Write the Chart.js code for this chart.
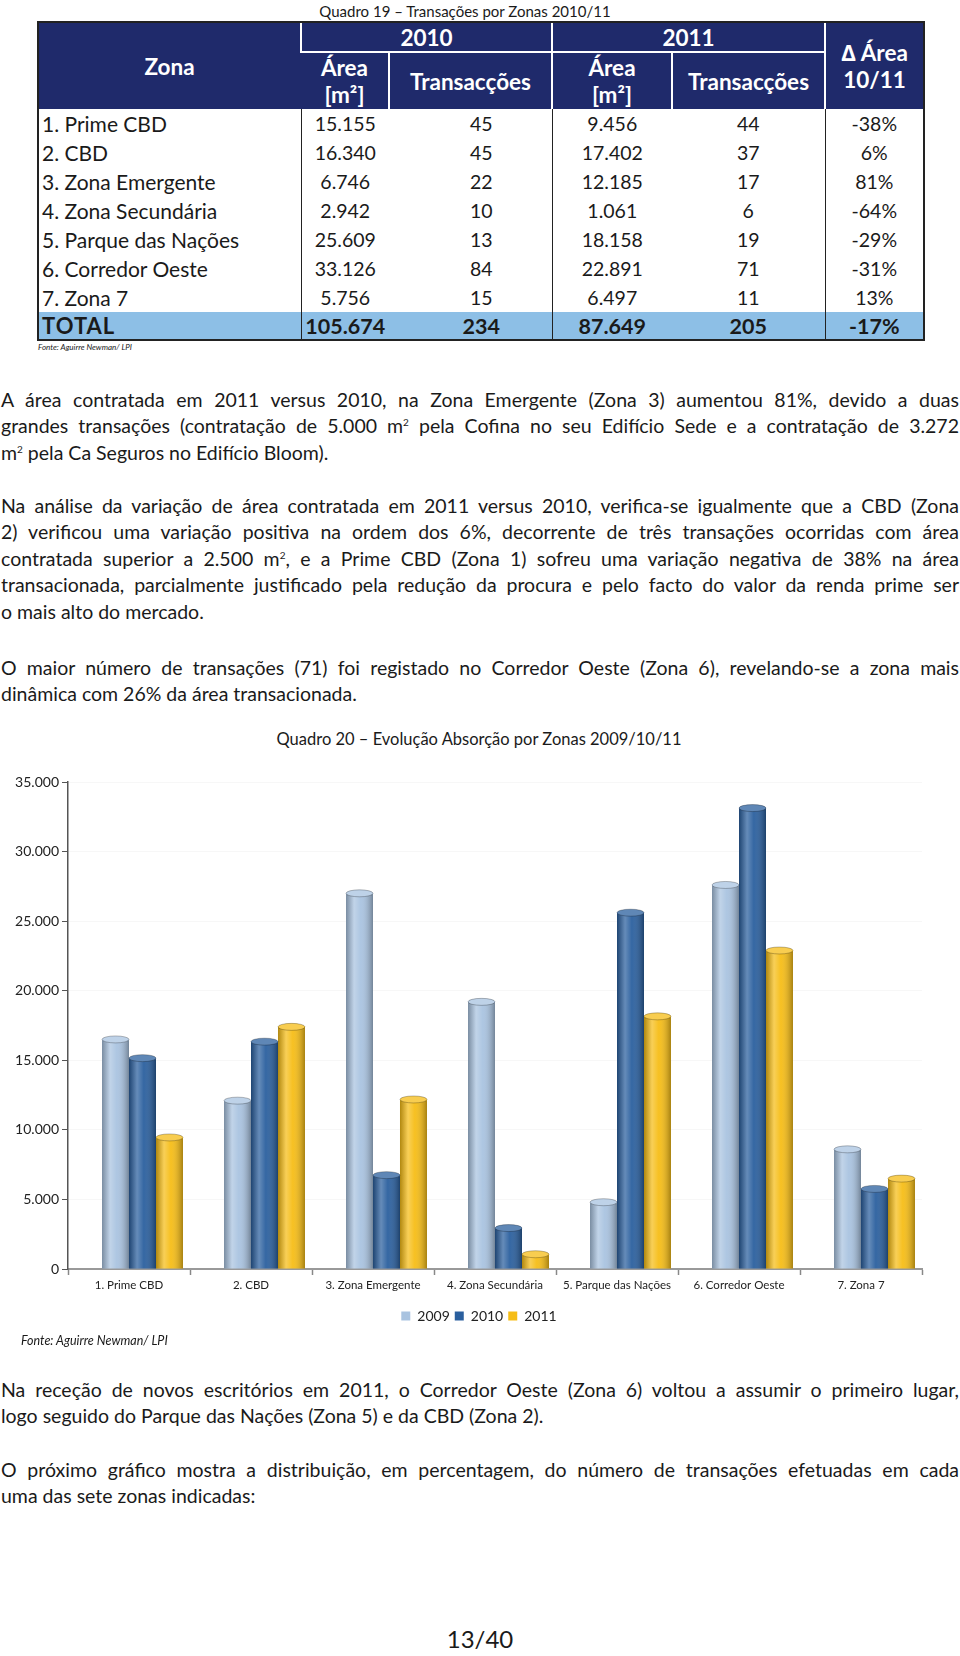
<!DOCTYPE html>
<html lang="pt">
<head>
  <meta charset="UTF-8">
  <title>Quadro 19 e Quadro 20</title>
  <script src="https://cdn.jsdelivr.net/npm/chart.js"></script>
  <style>
    html, body { margin: 0; padding: 0; background: #fff; }
    body { width: 960px; height: 1656px; position: relative; font-family: Lato, "Open Sans", sans-serif; color: #1a1a1a; overflow: hidden; }
    .abs { position: absolute; }
    .caption { font-size: 15px; text-align: center; white-space: nowrap; }
    .fonte { font-size: 11px; font-style: italic; white-space: nowrap; }
    table.t { border-collapse: collapse; table-layout: fixed; width: 884px; font-size: 19.5px; }
    table.t th { background: #1f2a6b; color: #fff; font-weight: 700; font-size: 22.5px; line-height: 27px; border-left: 2px solid #fff; padding: 0; }
    table.t th:first-child { border-left: none; }
    table.t thead tr:first-child th.yr { border-bottom: 2px solid #fff; }
    table.t td { padding: 0; text-align: center; height: 29px; line-height: 24px; }
    table.t td.z { text-align: left; padding-left: 3px; border-right: 1.5px solid #222; font-size: 21px; }
    table.t td.g { border-right: 1.5px solid #222; }
    table.t td.tr { padding-left: 22px; }
    table.t tr.tot td { background: #8dbfe6; font-weight: 700; height: 27px; font-size: 21.5px; }
    table.t tr.tot td.z { letter-spacing: 1px; font-size: 22px; }
    .t-wrap { border: 2px solid #222; }
    .para { left: 1px; width: 958px; font-size: 19.5px; line-height: 26.4px; }
    .para div { text-align: justify; text-align-last: justify; }
    .para div.last { text-align-last: left; }
    sup { font-size: 10px; line-height: 0; }
  </style>
</head>
<body>
  <div class="abs caption" style="left:0;width:930px;top:2px;">Quadro 19 – Transações por Zonas 2010/11</div>
  <div class="abs t-wrap" style="left:37px;top:21px;">
    <table class="t" id="tabela">
      <colgroup><col style="width:262px"><col style="width:88px"><col style="width:163px"><col style="width:120px"><col style="width:153px"><col style="width:98px"></colgroup>
      <thead>
        <tr style="height:29px">
          <th rowspan="2">Zona</th>
          <th colspan="2" class="yr">2010</th>
          <th colspan="2" class="yr">2011</th>
          <th rowspan="2">∆ Área<br>10/11</th>
        </tr>
        <tr style="height:57px">
          <th>Área<br>[m²]</th><th>Transacções</th><th>Área<br>[m²]</th><th>Transacções</th>
        </tr>
      </thead>
      <tbody id="corpo"></tbody>
    </table>
  </div>
  <div class="abs fonte" style="left:38px;top:342px;font-size:8px;">Fonte: Aguirre Newman/ LPI</div>

  <div class="abs para" style="top:387px;">
    <div>A área contratada em 2011 versus 2010, na Zona Emergente (Zona 3) aumentou 81%, devido a duas</div>
    <div>grandes transações (contratação de 5.000 m<sup>2</sup> pela Cofina no seu Edifício Sede e a contratação de 3.272</div>
    <div class="last">m<sup>2</sup> pela Ca Seguros no Edifício Bloom).</div>
  </div>
  <div class="abs para" style="top:493px;">
    <div>Na análise da variação de área contratada em 2011 versus 2010, verifica-se igualmente que a CBD (Zona</div>
    <div>2) verificou uma variação positiva na ordem dos 6%, decorrente de três transações ocorridas com área</div>
    <div>contratada superior a 2.500 m<sup>2</sup>, e a Prime CBD (Zona 1) sofreu uma variação negativa de 38% na área</div>
    <div>transacionada, parcialmente justificado pela redução da procura e pelo facto do valor da renda prime ser</div>
    <div class="last">o mais alto do mercado.</div>
  </div>
  <div class="abs para" style="top:655px;">
    <div>O maior número de transações (71) foi registado no Corredor Oeste (Zona 6), revelando-se a zona mais</div>
    <div class="last">dinâmica com 26% da área transacionada.</div>
  </div>

  <div class="abs caption" style="left:0;width:958px;top:729px;font-size:16.5px;">Quadro 20 – Evolução Absorção por Zonas 2009/10/11</div>
  <div class="abs" style="left:0;top:752px;width:960px;height:600px;">
    <canvas id="absorcao"></canvas>
  </div>
  <div class="abs fonte" style="left:21px;top:1333px;font-size:12.5px;">Fonte: Aguirre Newman/ LPI</div>

  <div class="abs para" style="top:1377px;">
    <div>Na receção de novos escritórios em 2011, o Corredor Oeste (Zona 6) voltou a assumir o primeiro lugar,</div>
    <div class="last">logo seguido do Parque das Nações (Zona 5) e da CBD (Zona 2).</div>
  </div>
  <div class="abs para" style="top:1457px;">
    <div>O próximo gráfico mostra a distribuição, em percentagem, do número de transações efetuadas em cada</div>
    <div class="last">uma das sete zonas indicadas:</div>
  </div>

  <div class="abs" style="left:0;width:960px;top:1624px;text-align:center;font-size:24px;">13/40</div>

  <script>
    // dados
    const zonas = ['1. Prime CBD', '2. CBD', '3. Zona Emergente', '4. Zona Secundária', '5. Parque das Nações', '6. Corredor Oeste', '7. Zona 7'];
    const area2009 = [16500, 12100, 27000, 19200, 4800, 27600, 8600];
    const area2010 = [15155, 16340, 6746, 2942, 25609, 33126, 5756];
    const area2011 = [9456, 17402, 12185, 1061, 18158, 22891, 6497];
    const trans2010 = [45, 45, 22, 10, 13, 84, 15];
    const trans2011 = [44, 37, 17, 6, 19, 71, 11];
    const deltaArea = ['-38%', '6%', '81%', '-64%', '-29%', '-31%', '13%'];
    const total = ['TOTAL', '105.674', '234', '87.649', '205', '-17%'];
    const anos = ['2009', '2010', '2011'];
    const cores = ['#a9c3e0', '#2a5f9e', '#f6bd16'];
    const yTicks = [0, 5000, 10000, 15000, 20000, 25000, 30000, 35000];

    const fmt = n => String(n).replace(/\B(?=(\d{3})+(?!\d))/g, '.');

    // tabela
    const corpo = document.getElementById('corpo');
    zonas.forEach((z, i) => {
      const tr = document.createElement('tr');
      tr.innerHTML = '<td class="z">' + z + '</td><td>' + fmt(area2010[i]) + '</td><td class="g tr">' + trans2010[i] +
        '</td><td>' + fmt(area2011[i]) + '</td><td class="g">' + trans2011[i] + '</td><td>' + deltaArea[i] + '</td>';
      corpo.appendChild(tr);
    });
    const trTot = document.createElement('tr');
    trTot.className = 'tot';
    trTot.innerHTML = '<td class="z">' + total[0] + '</td><td>' + total[1] + '</td><td class="g tr">' + total[2] +
      '</td><td>' + total[3] + '</td><td class="g">' + total[4] + '</td><td>' + total[5] + '</td>';
    corpo.appendChild(trTot);

    // sombreado "cilindro" por cima das barras
    const cilindro = {
      id: 'cilindro',
      afterDatasetsDraw(chart) {
        const ctx = chart.ctx;
        chart.data.datasets.forEach((ds, di) => {
          if (!ds.label) return;
          chart.getDatasetMeta(di).data.forEach(bar => {
            const w = bar.width, x0 = bar.x - w / 2, top = bar.y, h = bar.base - bar.y;
            const g = ctx.createLinearGradient(x0, 0, x0 + w, 0);
            g.addColorStop(0, 'rgba(0,0,0,0.28)');
            g.addColorStop(0.3, 'rgba(255,255,255,0.28)');
            g.addColorStop(0.55, 'rgba(255,255,255,0.05)');
            g.addColorStop(1, 'rgba(0,0,0,0.32)');
            ctx.save();
            ctx.fillStyle = g;
            ctx.fillRect(x0, top, w, h);
            ctx.beginPath();
            ctx.ellipse(bar.x, top, w / 2, 3.5, 0, 0, Math.PI * 2);
            ctx.fillStyle = ds.backgroundColor;
            ctx.fill();
            ctx.fillStyle = 'rgba(255,255,255,0.25)';
            ctx.fill();
            ctx.strokeStyle = 'rgba(0,0,0,0.25)';
            ctx.lineWidth = 1;
            ctx.stroke();
            ctx.restore();
          });
        });
      }
    };

    // a legenda do original está centrada na página, não na área do gráfico
    const legendaCentro = {
      id: 'legendaCentro',
      afterLayout(chart) {
        chart.legend.left += 18;
        chart.legend.right += 18;
      }
    };

    Chart.defaults.font.family = 'Lato';
    Chart.defaults.color = '#222';

    // uma série vazia à frente empurra o grupo de barras para a direita, como no efeito 3D do original
    const series = [{ label: '', data: zonas.map(() => null), backgroundColor: 'rgba(0,0,0,0)' }].concat(
      anos.map((a, i) => ({ label: a, data: [area2009, area2010, area2011][i], backgroundColor: cores[i] }))
    ).map(d => Object.assign(d, { borderWidth: 0, categoryPercentage: 0.885, barPercentage: 1.0 }));

    new Chart(document.getElementById('absorcao'), {
      type: 'bar',
      data: { labels: zonas, datasets: series },
      options: {
        responsive: true,
        maintainAspectRatio: false,
        animation: false,
        layout: { padding: { top: 30, right: 38, bottom: 19, left: 0 } },
        plugins: {
          legend: {
            position: 'bottom',
            labels: { boxWidth: 9, boxHeight: 9, padding: 5, font: { size: 14 }, color: '#222', filter: it => it.text !== '' }
          },
          tooltip: { enabled: false }
        },
        scales: {
          x: {
            afterFit: s => { s.height = 35; },
            grid: { offset: true, drawOnChartArea: false, tickLength: 6, tickColor: '#888', tickWidth: 1.5 },
            border: { color: '#999', width: 2 },
            ticks: { font: { size: 11.5 }, maxRotation: 0, autoSkip: false, padding: 3 }
          },
          y: {
            min: 0,
            max: 35000,
            afterFit: s => { s.width = 68; },
            afterBuildTicks: s => { s.ticks = yTicks.map(v => ({ value: v })); },
            grid: { color: 'rgba(0,0,0,0.03)', tickLength: 6, tickColor: '#555' },
            border: { color: '#555', width: 1.5 },
            ticks: { font: { size: 14 }, padding: 3, callback: v => fmt(v) }
          }
        }
      },
      plugins: [cilindro, legendaCentro]
    });
  </script>
</body>
</html>
